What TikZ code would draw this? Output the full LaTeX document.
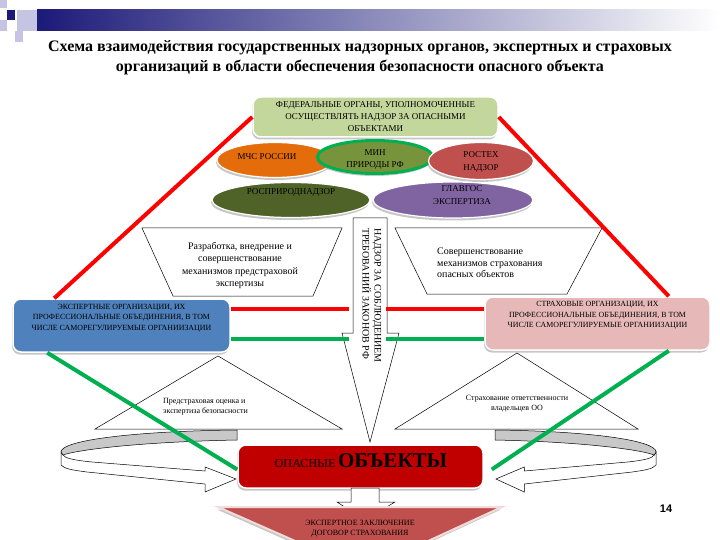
\documentclass[tikz,border=0pt]{standalone}
\usepackage{fontspec}
\setmainfont{Liberation Serif}
\setsansfont{Liberation Sans}
\usetikzlibrary{shapes.geometric,shadows}

\definecolor{barnavy}{HTML}{1C1A78}
\definecolor{sqlight}{HTML}{C5C5E3}
\definecolor{fedgreen}{HTML}{C3D69B}
\definecolor{mchsorange}{HTML}{E46C0A}
\definecolor{minfill}{HTML}{77933C}
\definecolor{minborder}{HTML}{00B050}
\definecolor{rostehred}{HTML}{C0504D}
\definecolor{rosprolive}{HTML}{4F6228}
\definecolor{glavpurple}{HTML}{8064A2}
\definecolor{expblue}{HTML}{4F81BD}
\definecolor{strahpink}{HTML}{E6B9B8}
\definecolor{opored}{HTML}{C00000}
\definecolor{bandgrey}{HTML}{C8C8C8}
\definecolor{linered}{HTML}{FF0000}
\definecolor{linegreen}{HTML}{00B050}
\definecolor{zaklrim}{HTML}{F2DCDB}

\begin{document}
\begin{tikzpicture}[x=1pt, y=-1pt,
    every node/.style={inner sep=0pt, align=center, text=black},
    softshadow/.style={drop shadow={shadow xshift=-1pt, shadow yshift=-2.5pt, fill=gray, opacity=.45}},
    orgellipse/.style={ellipse, draw=white, line width=1.2pt, softshadow},
    orgbox/.style={rectangle, rounded corners=8pt, draw=white, line width=1.5pt, softshadow},
    shapeline/.style={draw=black, line width=.5pt},
    redline/.style={draw=linered, line width=4pt},
    greenline/.style={draw=linegreen, line width=4pt},
    fedtext/.style={font=\fontsize{9}{12}\selectfont},
    elltext/.style={font=\fontsize{9}{12.5}\selectfont},
    capstext/.style={font=\fontsize{7.9}{10.5}\selectfont},
    trapeztext/.style={font=\fontsize{10}{12.3}\selectfont},
    smalltext/.style={font=\fontsize{8}{10}\selectfont},
    arrowtext/.style={font=\fontsize{10}{12}\selectfont},
    ]
    \useasboundingbox (0,0) rectangle (720,540);

    \shade[left color=barnavy, middle color=barnavy!45, right color=white] (37,10) rectangle (720,31);
    \fill[sqlight] (0,0) rectangle (7,8);
    \fill[sqlight] (17,10) rectangle (37,31);
    \fill[barnavy] (7,10) rectangle (15,20);
    \fill[sqlight] (0,20) rectangle (7,31);
    \fill[sqlight] (15,31) rectangle (23,42);

    \node[font=\bfseries\fontsize{16}{20}\selectfont] (title) at (360,58) {Схема взаимодействия  государственных надзорных органов, экспертных и страховых\\организаций в области обеспечения безопасности опасного объекта};

    \node[orgbox, fill=fedgreen, minimum width=245pt, minimum height=40pt, fedtext] (fed) at (375.5,117) {ФЕДЕРАЛЬНЫЕ ОРГАНЫ, УПОЛНОМОЧЕННЫЕ\\ОСУЩЕСТВЛЯТЬ НАДЗОР ЗА ОПАСНЫМИ\\ОБЪЕКТАМИ};

    \node[orgellipse, fill=mchsorange, minimum width=116pt, minimum height=35pt] (mchs) at (275,160) {};
    \node[elltext] (mchstxt) at ([xshift=-8pt,yshift=3pt]mchs.center) {МЧС РОССИИ};
    \node[orgellipse, fill=minfill, draw=minborder, line width=3pt, minimum width=115pt, minimum height=33pt] (minpr) at (375,157) {};
    \node[elltext] (minprtxt) at ([yshift=-2.5pt]minpr.center) {МИН\\ПРИРОДЫ РФ};
    \node[orgellipse, fill=rostehred, minimum width=105pt, minimum height=37pt] (rosteh) at (481,161) {};
    \node[elltext] (rostehtxt) at ([yshift=-1pt]rosteh.center) {РОСТЕХ\\НАДЗОР};
    \node[orgellipse, fill=rosprolive, minimum width=158pt, minimum height=35pt] (rospr) at (291,200) {};
    \node[elltext] (rosprtxt) at ([yshift=8pt]rospr.center) {РОСПРИРОДНАДЗОР};
    \node[orgellipse, fill=glavpurple, minimum width=160pt, minimum height=36pt] (glavgos) at (453,200) {};
    \node[elltext] (glavgostxt) at ([xshift=9pt,yshift=5pt]glavgos.center) {ГЛАВГОС\\ЭКСПЕРТИЗА};

    \draw[shapeline, fill=white] (142,228) -- (342,228) -- (313,296) -- (173,296) -- cycle;
    \node[trapeztext] (razr) at (240,265.5) {Разработка, внедрение и\\совершенствование\\механизмов  предстраховой\\экспертизы};
    \draw[shapeline, fill=white] (395,228) -- (602,228) -- (567,294) -- (427,294) -- cycle;
    \node[trapeztext, align=left, anchor=west, font=\fontsize{10}{11.5}\selectfont] (sover) at (437,263) {Совершенствование\\механизмов страхования\\опасных объектов};

    \draw[shapeline, fill=white] (218,356) -- (342,429) -- (95,429) -- cycle;
    \node[smalltext, align=left, anchor=west] (predstr) at (163,406.5) {Предстраховая  оценка и\\экспертиза безопасности};
    \draw[shapeline, fill=white] (517,353) -- (638,429) -- (395,429) -- cycle;
    \node[smalltext] (otvet) at (517,403.5) {Страхование ответственности\\владельцев ОО};

    \foreach \ax/\sx in {237/1, 495/-0.915} {
        \begin{scope}[shift={(\ax,0)}, xscale=\sx]
            \draw[shapeline, fill=white] (-176,452) -- (-176,465) .. controls (-172,469) and (-165,470) .. (-150,472) -- (-32,484) -- (-32,492) -- (-1,479) -- (-32,467) -- (-32,471) -- (-145,462) .. controls (-165,460) and (-172,458) .. (-174,455) -- cycle;
            \draw[shapeline, fill=bandgrey] (0,430) .. controls (-100,431) and (-176,440) .. (-176,452) -- (-174,455) .. controls (-160,450) and (-100,442) .. (0,440) -- cycle;
        \end{scope}
    }

    \draw[shapeline, fill=white] (353,218) -- (387,218) -- (387,333) -- (399,333) -- (370,442) -- (342,333) -- (353,333) -- cycle;
    \node[arrowtext, rotate=-90, align=left, anchor=north west] (nadzor) at (381.5,228) {НАДЗОР ЗА СОБЛЮДЕНИЕМ\\ТРЕБОВАНИЙ ЗАКОНОВ РФ};

    \node[orgbox, fill=expblue, minimum width=217pt, minimum height=53pt] (expert) at (121.5,325.5) {};
    \node[capstext] (experttxt) at ([yshift=7.5pt]expert.center) {ЭКСПЕРТНЫЕ ОРГАНИЗАЦИИ, ИХ\\ПРОФЕССИОНАЛЬНЫЕ ОБЪЕДИНЕНИЯ, В ТОМ\\ЧИСЛЕ САМОРЕГУЛИРУЕМЫЕ ОРГАНИИЗАЦИИ};
    \node[orgbox, fill=strahpink, minimum width=225pt, minimum height=53pt] (strah) at (597.5,323.5) {};
    \node[capstext] (strahtxt) at ([yshift=8pt]strah.center) {СТРАХОВЫЕ ОРГАНИЗАЦИИ, ИХ\\ПРОФЕССИОНАЛЬНЫЕ ОБЪЕДИНЕНИЯ, В ТОМ\\ЧИСЛЕ САМОРЕГУЛИРУЕМЫЕ ОРГАНИИЗАЦИИ};

    \coordinate (L-red) at (349,309);
    \coordinate (L-green) at (349,339);
    \coordinate (R-red) at (386,309);
    \coordinate (R-green) at (386,339);
    \foreach \c in {red, green} {
        \draw[\c line] (expert.east |- L-\c) -- (L-\c);
        \draw[\c line] (R-\c) -- (strah.west |- R-\c);
    }

    \draw[redline] (fed.west) -- ([xshift=42pt]expert.north west);
    \draw[redline] (fed.east) -- ([xshift=-42pt]strah.north east);

    \node[orgbox, fill=opored, minimum width=245pt, minimum height=43pt] (opo) at (360.5,466.5) {};
    \node (opotxt) at (361,461) {{\fontsize{12.2}{14}\selectfont ОПАСНЫЕ} {\fontsize{21}{22}\selectfont\bfseries ОБЪЕКТЫ}};
    \draw[greenline] ([xshift=35pt]expert.south west) -- ([yshift=-3pt]opo.west);
    \draw[greenline] ([xshift=-42pt]strah.south east) -- ([xshift=8pt,yshift=-3pt]opo.east);

    \draw[shapeline, fill=white] (351,488) -- (379,488) -- (379,502) -- (395,502) -- (365,520) -- (337,502) -- (351,502) -- cycle;
    \path[draw=zaklrim, line width=2pt, fill=rostehred, softshadow] (218,507) -- (502,507) -- (413,548) -- (311,548) -- cycle;
    \node[font=\fontsize{8}{10}\selectfont] (zakl) at (360,529) {ЭКСПЕРТНОЕ ЗАКЛЮЧЕНИЕ\\ДОГОВОР СТРАХОВАНИЯ};

    \node[font=\sffamily\bfseries\fontsize{11}{12}\selectfont] (pagenum) at (666,509) {14};
\end{tikzpicture}
\end{document}
